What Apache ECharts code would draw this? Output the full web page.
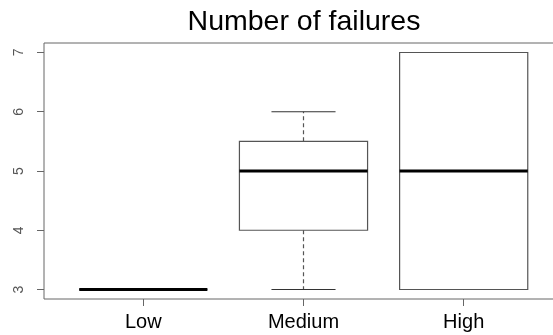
<!DOCTYPE html>
<html>
<head>
<meta charset="utf-8">
<script src="https://cdn.jsdelivr.net/npm/echarts@6/dist/echarts.min.js"></script>
<style>html,body{margin:0;padding:0;background:#fff;}#c{width:553px;height:335px;}</style>
</head>
<body>
<div id="c"></div>
<script>
const categories = ['Low', 'Medium', 'High'];
const mins    = [3, 3, 3];
const q1s     = [3, 4, 3];
const medians = [3, 5, 5];
const q3s     = [3, 5.5, 7];
const maxs    = [3, 6, 7];
const yTicks  = [3, 4, 5, 6, 7];

const data = categories.map((c, i) => [i, mins[i], q1s[i], medians[i], q3s[i], maxs[i]]);

const chart = echarts.init(document.getElementById('c'), null, {renderer: 'canvas'});
const lineCol = '#555';
chart.setOption({
  backgroundColor: '#fff',
  animation: false,
  title: {
    text: 'Number of failures',
    left: 299, top: 3,
    textAlign: 'center',
    textStyle: {fontFamily: 'Liberation Sans, Arial, sans-serif', fontSize: 28.5, fontWeight: 'normal', color: '#000'}
  },
  grid: {left: 44, right: -10, top: 43, bottom: 36, show: true, borderColor: '#666', borderWidth: 1, backgroundColor: 'transparent', containLabel: false, outerBoundsMode: 'none'},
  xAxis: {
    type: 'value', min: -0.62, max: 2.62,
    splitLine: {show: false},
    axisLine: {show: false, onZero: false},
    axisTick: {show: true, customValues: [0, 1, 2], length: 7, lineStyle: {color: '#666'}},
    axisLabel: {customValues: [0, 1, 2], formatter: v => categories[Math.round(v)], margin: 13,
      fontFamily: 'Liberation Sans, Arial, sans-serif', fontSize: 20, color: '#000'}
  },
  yAxis: {
    type: 'value', min: 2.84, max: 7.16,
    splitLine: {show: false},
    axisLine: {show: false, onZero: false},
    axisTick: {show: true, customValues: yTicks, length: 7, lineStyle: {color: '#666'}},
    axisLabel: {customValues: yTicks, rotate: 90, margin: 18,
      fontFamily: 'Liberation Sans, Arial, sans-serif', fontSize: 14, color: '#555'}
  },
  series: [{
    type: 'custom',
    data: data,
    encode: {x: 0, y: [1, 2, 3, 4, 5]},
    renderItem: function (params, api) {
      const x = api.value(0);
      const half = api.size([0.8, 0])[0] / 2;
      const capHalf = half / 2;
      const pMin = api.coord([x, api.value(1)]);
      const pQ1 = api.coord([x, api.value(2)]);
      const pMed = api.coord([x, api.value(3)]);
      const pQ3 = api.coord([x, api.value(4)]);
      const pMax = api.coord([x, api.value(5)]);
      const cx = pMed[0];
      const children = [];
      children.push({type: 'line', shape: {x1: cx, y1: pQ3[1], x2: cx, y2: pMax[1]}, style: {stroke: lineCol, lineWidth: 1.2, lineDash: [4, 3]}});
      children.push({type: 'line', shape: {x1: cx, y1: pQ1[1], x2: cx, y2: pMin[1]}, style: {stroke: lineCol, lineWidth: 1.2, lineDash: [4, 3]}});
      children.push({type: 'line', shape: {x1: cx - capHalf, y1: pMax[1], x2: cx + capHalf, y2: pMax[1]}, style: {stroke: '#333', lineWidth: 1.2}});
      children.push({type: 'line', shape: {x1: cx - capHalf, y1: pMin[1], x2: cx + capHalf, y2: pMin[1]}, style: {stroke: '#333', lineWidth: 1.2}});
      children.push({type: 'rect', shape: {x: cx - half, y: pQ3[1], width: half * 2, height: pQ1[1] - pQ3[1]}, style: {fill: 'none', stroke: lineCol, lineWidth: 1.2}});
      children.push({type: 'line', shape: {x1: cx - half, y1: pMed[1], x2: cx + half, y2: pMed[1]}, style: {stroke: '#000', lineWidth: 3}});
      return {type: 'group', children: children};
    }
  }]
});
</script>
</body>
</html>
